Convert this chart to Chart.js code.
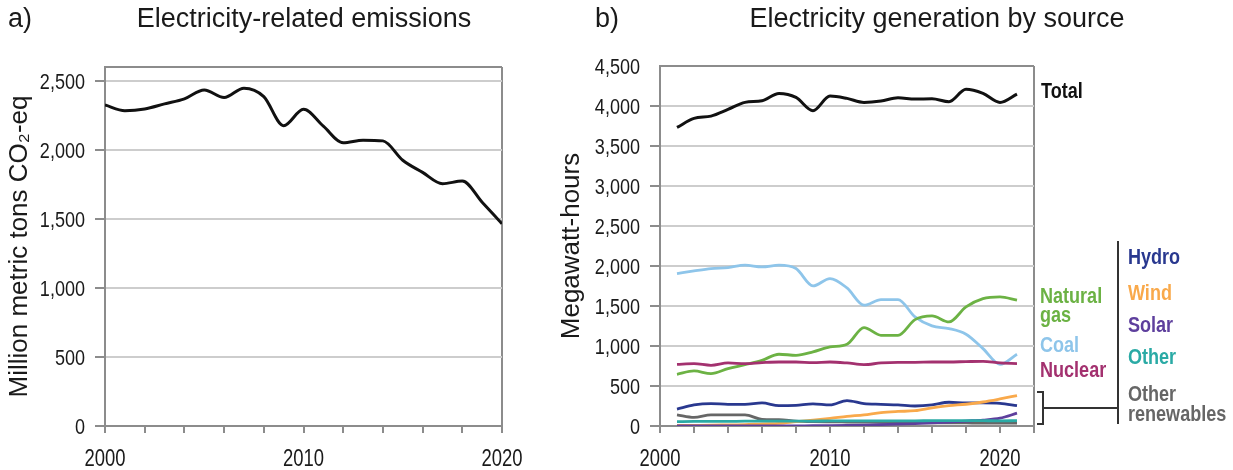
<!DOCTYPE html>
<html>
<head>
<meta charset="utf-8">
<script src="https://cdn.jsdelivr.net/npm/chart.js@4.4.1/dist/chart.umd.min.js"></script>
<style>
  html, body { margin: 0; padding: 0; background: #fff; }
  #wrap { position: relative; width: 1233px; height: 470px; overflow: hidden; }
  #leftBox { position: absolute; left: 0; top: 0; width: 540px; height: 470px; }
  #rightBox { position: absolute; left: 540px; top: 0; width: 693px; height: 470px; }
</style>
</head>
<body>
<div id="wrap">
  <div id="leftBox"><canvas id="emissionsChart"></canvas></div>
  <div id="rightBox"><canvas id="generationChart"></canvas></div>
</div>
<script>
// a) Electricity-related emissions (million metric tons CO2-eq)
const emissionYears = [2000, 2001, 2002, 2003, 2004, 2005, 2006, 2007, 2008, 2009, 2010,
    2011, 2012, 2013, 2014, 2015, 2016, 2017, 2018, 2019, 2020];
const emissions = [2325, 2284, 2296, 2333, 2369, 2434, 2379, 2447, 2386, 2175, 2294,
    2172, 2051, 2070, 2065, 1925, 1837, 1755, 1774, 1621, 1464];
const emissionTicks = [0, 500, 1000, 1500, 2000, 2500];

// b) Electricity generation by source
const genYears = [2001, 2002, 2003, 2004, 2005, 2006, 2007, 2008, 2009, 2010, 2011,
    2012, 2013, 2014, 2015, 2016, 2017, 2018, 2019, 2020, 2021];
const total = [3732, 3845, 3874, 3957, 4045, 4066, 4157, 4107, 3941, 4124, 4095,
    4045, 4062, 4103, 4087, 4091, 4053, 4208, 4157, 4045, 4149];
const coal = [1906, 1939, 1968, 1981, 2010, 1989, 2010, 1968, 1751, 1843, 1726,
    1510, 1580, 1580, 1364, 1251, 1218, 1147, 967, 771, 897];
const naturalGas = [646, 688, 655, 717, 767, 821, 897, 884, 926, 988, 1022,
    1230, 1134, 1134, 1330, 1376, 1301, 1489, 1593, 1614, 1572];
const nuclear = [771, 780, 759, 788, 780, 792, 800, 800, 792, 800, 788,
    767, 788, 796, 796, 800, 800, 805, 809, 788, 780];
const hydro = [212, 263, 280, 271, 271, 288, 254, 259, 276, 263, 318,
    280, 271, 263, 250, 263, 297, 288, 288, 284, 254];
const wind = [6, 8, 10, 14, 18, 27, 34, 55, 74, 95, 120,
    140, 168, 182, 191, 227, 254, 272, 300, 338, 380];
const solar = [0, 0, 1, 1, 1, 1, 1, 2, 3, 4, 7,
    12, 18, 25, 30, 38, 50, 62, 74, 97, 160];
const other = [55, 57, 58, 58, 60, 60, 61, 62, 62, 63, 63,
    64, 64, 65, 65, 66, 66, 67, 66, 65, 66];
const otherRenewables = [140, 108, 140, 140, 140, 82, 78, 62, 55, 52, 50,
    48, 46, 45, 42, 40, 40, 38, 36, 35, 35];
const generationTicks = [0, 500, 1000, 1500, 2000, 2500, 3000, 3500, 4000, 4500];
const yearLabels = [2000, 2010, 2020];

const AXIS_GREY = '#8c8c8c';
const GRID_GREY = '#cdcdcd';
const TEXT = '#1a1a1a';
const SANS = "'Liberation Sans', Arial, sans-serif";
const NARROW_X = 0.82; // squeeze for the narrow label face

function points(xs, ys) {
    return xs.map((x, i) => ({ x: x, y: ys[i] }));
}

// draws text horizontally condensed, like the narrow face in the original
function narrowText(ctx, text, x, y, align, squeeze) {
    ctx.save();
    ctx.translate(x, y);
    ctx.scale(squeeze || NARROW_X, 1);
    ctx.textAlign = align;
    ctx.fillText(text, 0, 0);
    ctx.restore();
}

function xScale(min, max) {
    return {
        type: 'linear',
        min: min,
        max: max,
        afterBuildTicks: (scale) => {
            const ticks = [];
            for (let v = min; v <= max; v += 2) ticks.push({ value: v });
            scale.ticks = ticks;
        },
        afterFit: (scale) => { scale.height = 44; },
        border: { color: AXIS_GREY, width: 2 },
        grid: {
            drawOnChartArea: true,
            color: (c) => c.tick && c.tick.value === max ? AXIS_GREY : 'rgba(0,0,0,0)',
            tickColor: AXIS_GREY,
            lineWidth: 2,
            tickLength: 7
        },
        ticks: { display: false }
    };
}

function yScale(max, tickList, width, titleText, titlePad) {
    return {
        type: 'linear',
        min: 0,
        max: max,
        afterBuildTicks: (scale) => {
            const vals = tickList.includes(max) ? tickList : tickList.concat(max);
            scale.ticks = vals.map(v => ({ value: v }));
        },
        afterFit: (scale) => { scale.width = width; },
        border: { color: AXIS_GREY, width: 2 },
        grid: {
            color: (c) => c.tick && c.tick.value === max ? AXIS_GREY : GRID_GREY,
            tickColor: (c) => c.tick && c.tick.value === max ? 'rgba(0,0,0,0)' : AXIS_GREY,
            lineWidth: 2,
            tickLength: 10
        },
        ticks: { display: false },
        title: {
            display: true,
            text: titleText,
            color: TEXT,
            font: { family: SANS, size: 26 },
            padding: { top: titlePad, bottom: 0 }
        }
    };
}

// Tick labels, placed from the chart's own scales
function tickLabelPlugin(yTicks) {
    return {
        id: 'tickLabels',
        afterDraw(chart) {
            const { ctx, chartArea } = chart;
            const xs = chart.scales.x, ys = chart.scales.y;
            ctx.save();
            ctx.fillStyle = TEXT;
            ctx.textBaseline = 'alphabetic';
            ctx.font = '22px ' + SANS;
            yTicks.forEach(v => {
                narrowText(ctx, v.toLocaleString('en-US'), chartArea.left - 20, ys.getPixelForValue(v) + 8, 'right');
            });
            ctx.font = '24px ' + SANS;
            yearLabels.forEach(v => {
                narrowText(ctx, String(v), xs.getPixelForValue(v), 466, 'center', 0.77);
            });
            ctx.restore();
        }
    };
}

// Panel headings drawn onto each canvas
function headingPlugin(letter, letterX, title, titleX) {
    return {
        id: 'heading',
        afterDraw(chart) {
            const ctx = chart.ctx;
            ctx.save();
            ctx.fillStyle = TEXT;
            ctx.font = '27px ' + SANS;
            ctx.textBaseline = 'alphabetic';
            ctx.textAlign = 'left';
            ctx.fillText(letter, letterX, 27);
            ctx.textAlign = 'center';
            ctx.fillText(title, titleX, 27);
            ctx.restore();
        }
    };
}

// Source labels to the right of panel b
const legendLabels = [
    { text: 'Total', x: 501, y: 98, color: '#111111' },
    { text: 'Natural', x: 500, y: 303, color: '#6cb244' },
    { text: 'gas', x: 500, y: 322, color: '#6cb244' },
    { text: 'Coal', x: 500, y: 352, color: '#8ec5ea' },
    { text: 'Nuclear', x: 500, y: 377, color: '#a3316f' },
    { text: 'Hydro', x: 588, y: 264, color: '#29388f' },
    { text: 'Wind', x: 588, y: 300, color: '#f9a94b' },
    { text: 'Solar', x: 588, y: 332, color: '#5e3f9d' },
    { text: 'Other', x: 588, y: 364, color: '#2aaaa5' },
    { text: 'Other', x: 588, y: 401, color: '#666666' },
    { text: 'renewables', x: 588, y: 421, color: '#666666' }
];

const legendPlugin = {
    id: 'sourceLegend',
    afterDraw(chart) {
        const ctx = chart.ctx;
        ctx.save();
        ctx.font = 'bold 22px ' + SANS;
        ctx.textBaseline = 'alphabetic';
        legendLabels.forEach(l => {
            ctx.fillStyle = l.color;
            narrowText(ctx, l.text, l.x, l.y, 'left');
        });
        // bracket round the small sources + connector to the label column
        ctx.strokeStyle = '#333333';
        ctx.lineWidth = 2;
        ctx.beginPath();
        ctx.moveTo(578, 241); ctx.lineTo(578, 424);
        ctx.moveTo(497, 392); ctx.lineTo(503, 392); ctx.lineTo(503, 424); ctx.lineTo(497, 424);
        ctx.moveTo(503, 408); ctx.lineTo(578, 408);
        ctx.stroke();
        ctx.restore();
    }
};

function lineSet(label, xs, ys, color, width) {
    return {
        label: label,
        data: points(xs, ys),
        borderColor: color,
        backgroundColor: color,
        borderWidth: width,
        pointRadius: 0,
        cubicInterpolationMode: 'monotone',
        fill: false
    };
}

new Chart(document.getElementById('emissionsChart').getContext('2d'), {
    type: 'line',
    data: {
        datasets: [lineSet('Emissions', emissionYears, emissions, '#111111', 3)]
    },
    options: {
        responsive: true,
        maintainAspectRatio: false,
        animation: false,
        layout: { padding: { top: 67, right: 38, left: 0, bottom: 0 } },
        plugins: { legend: { display: false }, tooltip: { enabled: false } },
        scales: {
            x: xScale(2000, 2020),
            y: yScale(2600, emissionTicks, 105, 'Million metric tons CO\u2082-eq', 4)
        }
    },
    plugins: [headingPlugin('a)', 8, 'Electricity-related emissions', 304), tickLabelPlugin(emissionTicks)]
});

new Chart(document.getElementById('generationChart').getContext('2d'), {
    type: 'line',
    data: {
        datasets: [
            lineSet('Total', genYears, total, '#111111', 3),
            lineSet('Nuclear', genYears, nuclear, '#a3316f', 2.8),
            lineSet('Natural gas', genYears, naturalGas, '#6cb244', 2.8),
            lineSet('Coal', genYears, coal, '#8ec5ea', 2.8),
            lineSet('Other', genYears, other, '#2aaaa5', 2.8),
            lineSet('Solar', genYears, solar, '#5e3f9d', 2.8),
            lineSet('Wind', genYears, wind, '#f9a94b', 2.8),
            lineSet('Hydro', genYears, hydro, '#29388f', 2.8),
            lineSet('Other renewables', genYears, otherRenewables, '#666666', 2.8)
        ]
    },
    options: {
        responsive: true,
        maintainAspectRatio: false,
        animation: false,
        layout: { padding: { top: 66, right: 199, left: 0, bottom: 0 } },
        plugins: { legend: { display: false }, tooltip: { enabled: false } },
        scales: {
            x: xScale(2000, 2022),
            y: yScale(4500, generationTicks, 120, 'Megawatt-hours', 16)
        }
    },
    plugins: [headingPlugin('b)', 55, 'Electricity generation by source', 397),
        tickLabelPlugin(generationTicks), legendPlugin]
});
</script>
</body>
</html>
